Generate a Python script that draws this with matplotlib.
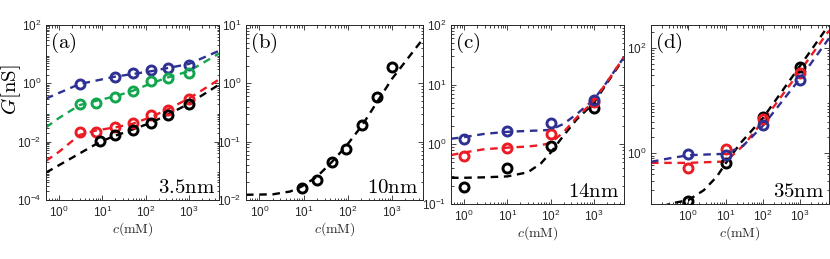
import numpy as np
import matplotlib
matplotlib.use('Agg')
import matplotlib.pyplot as plt
from matplotlib.ticker import LogLocator, NullFormatter

plt.rcParams['font.family'] = ['Liberation Sans', 'DejaVu Sans']
plt.rcParams['mathtext.fontset'] = 'cm'

# 颜色
BLUE = '#2e3192'
GREEN = '#13a64f'
RED = '#ec1c24'
BLACK = '#000000'

# ---------- (a) 3.5nm ----------
ca_b = [3, 20, 50, 135, 330, 1000]
Ga_b = [0.92, 1.7, 2.3, 2.9, 3.3, 4.3]
ca_g = [3, 7, 20, 50, 135, 330, 1000]
Ga_g = [0.19, 0.22, 0.34, 0.56, 1.24, 1.49, 2.3]
ca_r = [3, 7, 20, 50, 135, 330, 1000]
Ga_r = [0.0215, 0.0215, 0.033, 0.044, 0.079, 0.122, 0.28]
ca_k = [9, 20, 50, 135, 330, 1000]
Ga_k = [0.0102, 0.0167, 0.026, 0.043, 0.079, 0.19]

fa_c_b = [0.5, 3, 20, 135, 1000, 5000]
fa_G_b = [0.30, 0.95, 1.7, 2.6, 4.6, 13]
fa_c_g = [0.5, 1, 3, 7, 20, 50, 135, 330, 1000, 5000]
fa_G_g = [0.031, 0.065, 0.18, 0.25, 0.36, 0.55, 1.0, 1.6, 2.6, 10.5]
fa_c_r = [0.5, 1, 3, 7, 20, 50, 135, 330, 1000, 5000]
fa_G_r = [0.0022, 0.0045, 0.017, 0.024, 0.031, 0.041, 0.07, 0.13, 0.3, 1.35]
fa_c_k = [0.5, 9, 20, 50, 135, 330, 1000, 5000]
fa_G_k = [0.00087, 0.010, 0.016, 0.026, 0.045, 0.085, 0.2, 0.9]

# ---------- (b) 10nm ----------
cb_k = [9, 20, 45, 93, 210, 460, 1000]
Gb_k = [0.016, 0.0223, 0.0446, 0.0745, 0.196, 0.574, 1.92]
fb_c_k = [0.5, 2, 5, 9, 20, 45, 93, 210, 460, 1000, 5000]
fb_G_k = [0.0123, 0.0125, 0.014, 0.017, 0.025, 0.046, 0.085, 0.19, 0.48, 1.2, 5.8]

# ---------- (c) 14nm ----------
cc = [1, 10, 100, 1000]
Gc_b = [1.24, 1.65, 2.32, 5.45]
Gc_r = [0.643, 0.86, 1.51, 5.03]
Gc_k = [0.193, 0.407, 0.955, 4.14]
fc_c = [0.5, 1, 3, 10, 30, 60, 100, 200, 400, 1000, 2000, 5000]
fc_G_b = [1.24, 1.32, 1.5, 1.62, 1.68, 1.71, 1.75, 2.2, 3.2, 5.6, 11, 29]
fc_G_r = [0.66, 0.73, 0.83, 0.88, 0.92, 0.97, 1.05, 1.6, 2.8, 5.3, 11, 29]
fc_G_k = [0.275, 0.275, 0.28, 0.29, 0.34, 0.48, 0.72, 1.4, 2.6, 4.9, 10.5, 28]

# ---------- (d) 35nm ----------
cd = [1, 10, 100, 1000]
Gd_k = [0.125, 0.664, 4.8, 43.7]
Gd_r = [0.52, 1.19, 4.47, 33.6]
Gd_b = [0.97, 0.93, 3.44, 24.4]
fd_c_k = [0.2, 0.4, 1, 2.6, 5.8, 10, 25, 100, 1000, 6000]
fd_G_k = [0.1, 0.115, 0.13, 0.2, 0.36, 0.64, 1.55, 4.6, 45, 270]
fd_c_r = [0.1, 1, 10, 30, 100, 1000, 6000]
fd_G_r = [0.66, 0.66, 0.7, 1.4, 4.0, 36, 210]
fd_c_b = [0.1, 0.3, 1, 3, 10, 30, 100, 1000, 6000]
fd_G_b = [0.69, 0.8, 0.92, 0.95, 0.98, 1.4, 3.3, 26, 150]

fig = plt.figure(figsize=(8.3, 2.59), dpi=100)
W, H = 830.0, 259.0


def make_ax(l, r, t, b):
    return fig.add_axes([l / W, (H - b) / H, (r - l) / W, (b - t) / H])


def style(ax, xlim, ylim, yticks=None):
    ax.set_xscale('log')
    ax.set_yscale('log')
    ax.set_xlim(*xlim)
    ax.set_ylim(*ylim)
    ax.set_xticks([1, 10, 100, 1000])
    if yticks is not None:
        ax.set_yticks(yticks)
    ax.xaxis.set_minor_locator(LogLocator(base=10, subs=np.arange(2, 10), numticks=20))
    ax.yaxis.set_minor_locator(LogLocator(base=10, subs=np.arange(2, 10), numticks=20))
    ax.xaxis.set_minor_formatter(NullFormatter())
    ax.yaxis.set_minor_formatter(NullFormatter())
    ax.tick_params(which='both', direction='in', top=True, right=True,
                   colors='#262626', labelsize=8.5, width=0.6)
    ax.tick_params(which='major', length=3.5)
    ax.tick_params(which='minor', length=1.8)
    for s in ax.spines.values():
        s.set_color('#262626')
        s.set_linewidth(0.7)
    ax.set_xlabel(r'$c\mathrm{(mM)}$', fontsize=10, labelpad=0, color='#262626')


def fit(ax, c, G, col):
    ax.plot(c, G, color=col, lw=1.7, dashes=(3.2, 2.4), zorder=2)


def pts(ax, c, G, col):
    ax.plot(c, G, 'o', color=col, mfc='none', mec=col, ms=6.5, mew=2.1, zorder=3)


def tags(ax, lab, size):
    ax.text(0.025, 0.965, lab, transform=ax.transAxes, ha='left', va='top', fontsize=15)
    ax.text(0.975, 0.015, size, transform=ax.transAxes, ha='right', va='bottom', fontsize=15)


# (a)
ax = make_ax(46, 219, 25, 200)
fit(ax, fa_c_b, fa_G_b, BLUE)
fit(ax, fa_c_g, fa_G_g, GREEN)
fit(ax, fa_c_r, fa_G_r, RED)
fit(ax, fa_c_k, fa_G_k, BLACK)
pts(ax, ca_b, Ga_b, BLUE)
pts(ax, ca_g, Ga_g, GREEN)
pts(ax, ca_r, Ga_r, RED)
pts(ax, ca_k, Ga_k, BLACK)
style(ax, (0.5, 5000), (1e-4, 1e2), [1e-4, 1e-2, 1, 1e2])
ax.set_ylabel(r'$G[\mathrm{nS}]$', fontsize=15)
ax.yaxis.set_label_coords(-0.135, 0.63)
tags(ax, r'$\mathrm{(a)}$', r'$\mathrm{3.5nm}$')

# (b)
ax = make_ax(246, 423, 25, 200)
fit(ax, fb_c_k, fb_G_k, BLACK)
pts(ax, cb_k, Gb_k, BLACK)
style(ax, (0.5, 5000), (1e-2, 1e1), [1e-2, 1e-1, 1, 1e1])
tags(ax, r'$\mathrm{(b)}$', r'$\mathrm{10nm}$')

# (c)
ax = make_ax(451, 624, 25, 204)
fit(ax, fc_c, fc_G_k, BLACK)
fit(ax, fc_c, fc_G_b, BLUE)
fit(ax, fc_c, fc_G_r, RED)
pts(ax, cc, Gc_k, BLACK)
pts(ax, cc, Gc_r, RED)
pts(ax, cc, Gc_b, BLUE)
style(ax, (0.5, 5000), (1e-1, 1e2), [1e-1, 1, 1e1, 1e2])
tags(ax, r'$\mathrm{(c)}$', r'$\mathrm{14nm}$')

# (d)
ax = make_ax(651, 829, 25, 204)
fit(ax, fd_c_k, fd_G_k, BLACK)
fit(ax, fd_c_r, fd_G_r, RED)
fit(ax, fd_c_b, fd_G_b, BLUE)
pts(ax, cd, Gd_k, BLACK)
pts(ax, cd, Gd_r, RED)
pts(ax, cd, Gd_b, BLUE)
style(ax, (0.1, 6000), (0.11, 268), [1, 100])
tags(ax, r'$\mathrm{(d)}$', r'$\mathrm{35nm}$')

fig.savefig('out.png', dpi=100)
